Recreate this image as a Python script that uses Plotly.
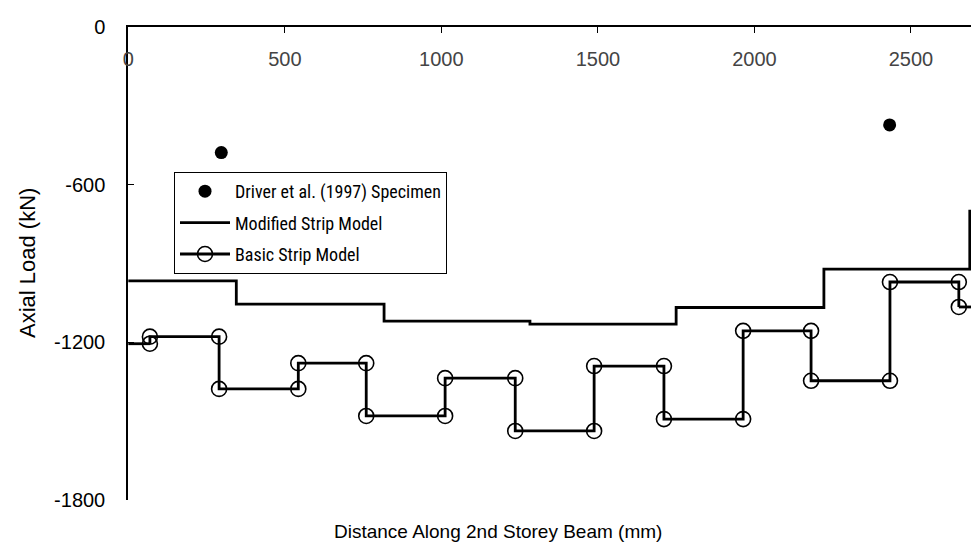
import plotly.graph_objects as go

# ---- data ----
x_max = 2743  # visible right edge of the axis (plot is cropped in the original)

driver_x = [297, 2432]
driver_y = [-477, -372]

modified_edges = [345, 817, 1283, 1750, 2222, 2688]
modified_levels = [-966, -1054, -1119, -1130, -1067, -921, -700]

basic_edges = [69, 290, 543, 760, 1012, 1236, 1488, 1711, 1964, 2181, 2433, 2653]
basic_levels = [-1205, -1178, -1377, -1279, -1480, -1336, -1537, -1290, -1492,
                -1156, -1346, -970, -1065]

y_ticks = [0, -600, -1200, -1800]
y_tick_text = ["0", "-600", "-1200", "-1800"]
x_ticks = [0, 500, 1000, 1500, 2000, 2500]

REG = "Liberation Sans, Arial, sans-serif"
COND = "Roboto Condensed, Liberation Sans, Arial, sans-serif"

# ---- build step vertices ----
mod_x = [0] + modified_edges + [x_max]
mod_y = modified_levels + [modified_levels[-1]]

b_x, b_y = [], []
for i, e in enumerate(basic_edges):
    b_x += [e, e]
    b_y += [basic_levels[i], basic_levels[i + 1]]
stub_x = [0, basic_edges[0], None, basic_edges[-1], x_max]
stub_y = [basic_levels[0], basic_levels[0], None, basic_levels[-1], basic_levels[-1]]

fig = go.Figure()
fig.add_trace(go.Scatter(
    x=driver_x, y=driver_y, mode="markers", name="Driver et al. (1997) Specimen",
    legendgroup="a",
    marker=dict(symbol="circle", size=13, color="black"), cliponaxis=False))
fig.add_trace(go.Scatter(
    x=mod_x, y=mod_y, mode="lines", name="Modified Strip Model", legendgroup="b",
    line=dict(color="black", width=2.8, shape="hv")))
fig.add_trace(go.Scatter(
    x=stub_x, y=stub_y, mode="lines", showlegend=False, legendgroup="c",
    line=dict(color="black", width=2.8)))
fig.add_trace(go.Scatter(
    x=b_x, y=b_y, mode="lines+markers", name="Basic Strip Model", legendgroup="c",
    line=dict(color="black", width=2.8),
    marker=dict(symbol="circle-open", size=15, color="black", line=dict(width=1.6)),
    cliponaxis=False))

fig.update_layout(
    width=979, height=548,
    margin=dict(l=120, r=0, t=19, b=56),
    paper_bgcolor="white", plot_bgcolor="white",
    font=dict(family=REG, size=20, color="black"),
    showlegend=True,
    legend=dict(
        x=(166 - 120) / 859, y=(492 - 164) / 473, xanchor="left", yanchor="top",
        bordercolor="black", borderwidth=1, bgcolor="white",
        font=dict(family=COND, size=18, color="black", weight=400),
        itemwidth=50, traceorder="grouped", tracegroupgap=5,
    ),
    xaxis=dict(
        range=[-1, x_max], side="top", showline=True, linecolor="black", linewidth=1.5,
        ticks="inside", ticklen=6, tickwidth=1.2, tickcolor="black",
        tickvals=x_ticks, ticklabelposition="inside", ticklabelstandoff=20,
        ticklabeloverflow="allow",
        showgrid=False, zeroline=False, tickfont=dict(family=REG, size=20),
    ),
    yaxis=dict(
        range=[-1800, 1], showline=True, linecolor="black", linewidth=1.5,
        ticks="inside", ticklen=6, tickwidth=1.2, tickcolor="black",
        tickvals=y_ticks, ticktext=y_tick_text, ticklabelstandoff=17,
        ticklabeloverflow="allow",
        showgrid=False, zeroline=False, tickfont=dict(family=REG, size=20),
    ),
    annotations=[
        dict(text="Distance Along 2nd Storey Beam (mm)", xref="paper", yref="paper",
             x=(490 - 120) / 859, y=(492 - 523) / 473, xanchor="center", yanchor="middle",
             showarrow=False, font=dict(family=REG, size=19)),
        dict(text="Axial Load (kN)", xref="paper", yref="paper",
             x=(19 - 120) / 859, y=(492 - 255) / 473, xanchor="center", yanchor="middle",
             textangle=-90, showarrow=False, font=dict(family=REG, size=22)),
    ],
)

fig.write_html("out.html")
